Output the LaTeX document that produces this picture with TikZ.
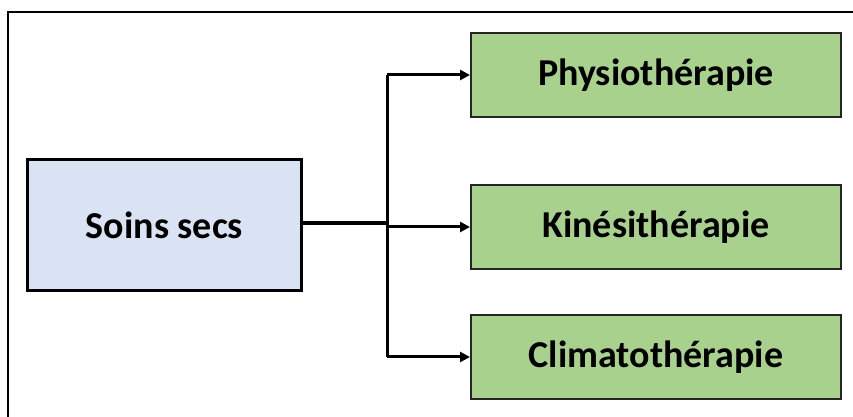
\documentclass[tikz,border=0pt]{standalone}
\usepackage{fontspec}
\setmainfont{Carlito}
\usetikzlibrary{arrows.meta}
\definecolor{bluefill}{HTML}{DAE3F3}
\definecolor{greenfill}{HTML}{A9D18E}
\tikzset{
  srcbox/.style={draw=black, line width=3.5pt, fill=bluefill, minimum width=274pt, minimum height=131pt, inner sep=0pt, font=\bfseries\fontsize{38}{44}\selectfont},
  leafbox/.style={draw=black!85, line width=2pt, fill=greenfill, minimum width=370pt, minimum height=84pt, inner sep=0pt, font=\bfseries\fontsize{38}{44}\selectfont},
  trunk/.style={line width=4.5pt},
  branch/.style={line width=3pt, -{Triangle[length=10pt,width=10pt]}},
}
\begin{document}
\begin{tikzpicture}[x=1pt,y=1pt]
\useasboundingbox (0,0) rectangle (853,417);
\draw[line width=2.5pt] (8,-5) -- (8,405) -- (860,405);
\node[srcbox] (src) at (164.5,192) {Soins secs};
\node[leafbox] (p1) at (656,342) {Physiothérapie};
\node[leafbox] (p2) at (656,190) {Kinésithérapie};
\node[leafbox] (p3) at (656,60) {Climatothérapie};
\coordinate (j) at (387,194);
\draw[trunk] (src.east |- j) -- (j);
\draw[line width=3pt] (387,342) -- (387,60);
\draw[branch] (387,342) -- (p1.west);
\draw[branch] (387,190) -- (p2.west);
\draw[branch] (387,60) -- (p3.west);
\end{tikzpicture}
\end{document}
